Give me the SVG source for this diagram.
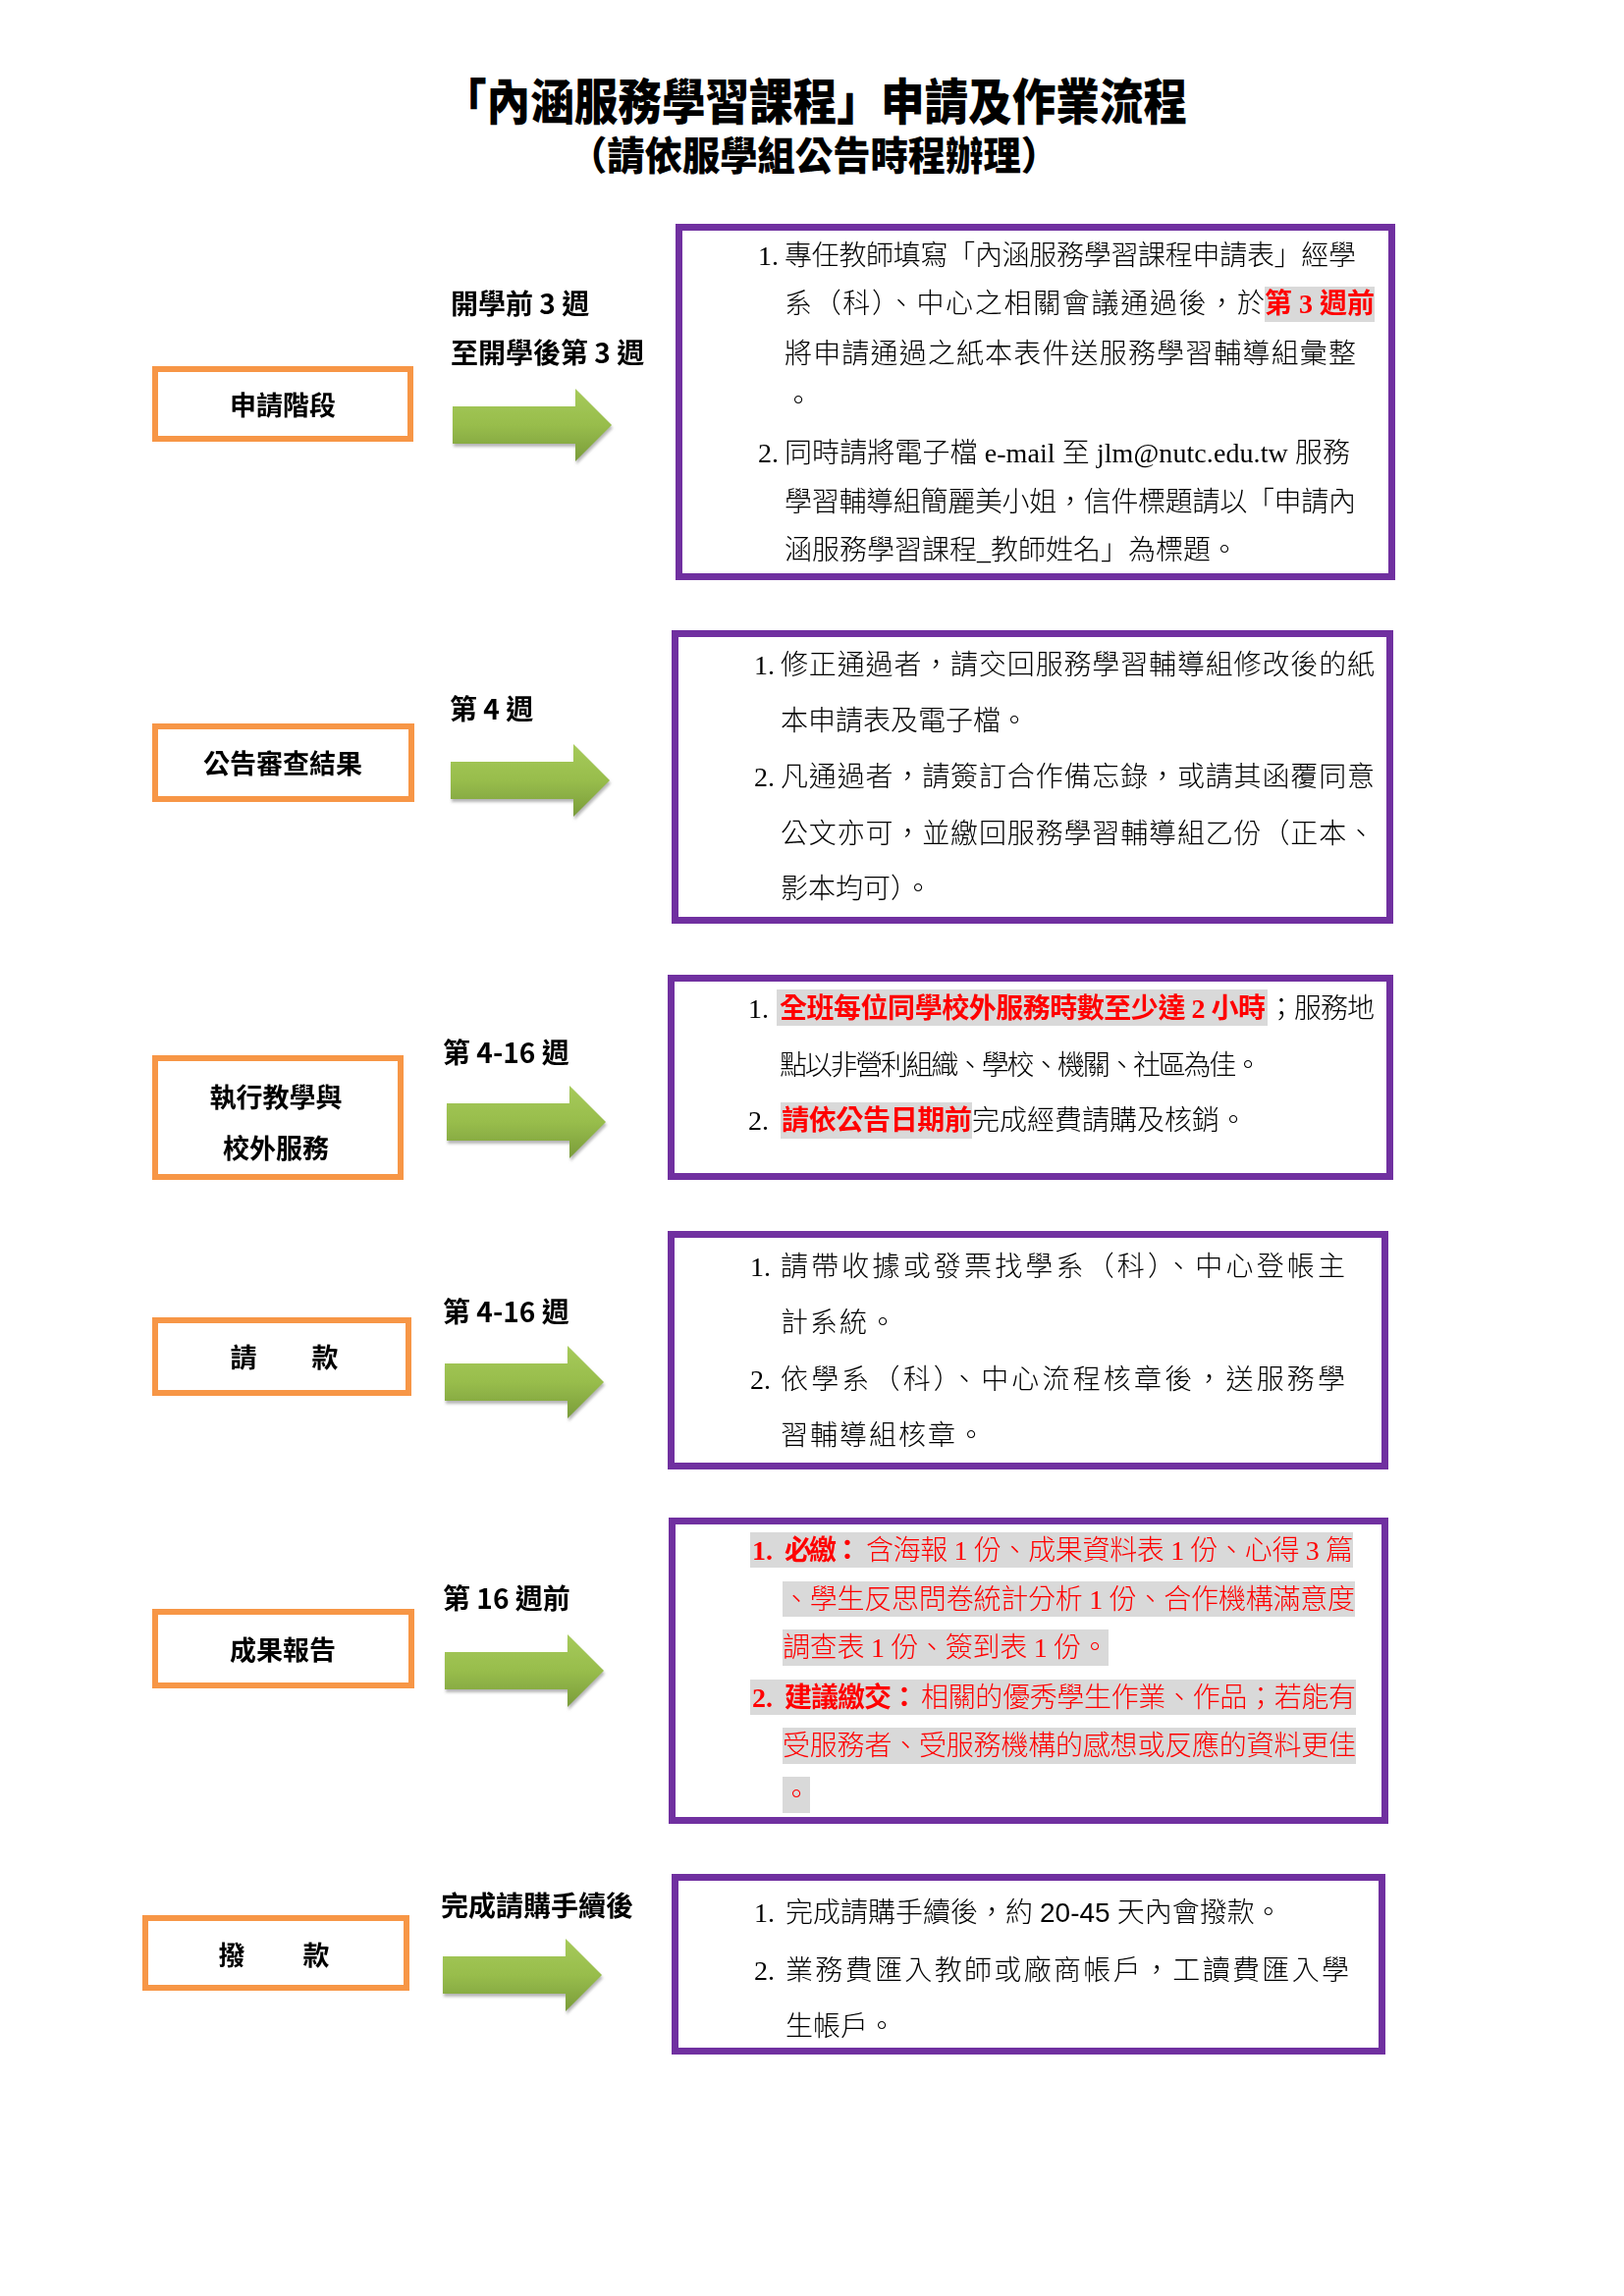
<svg xmlns="http://www.w3.org/2000/svg" width="1654" height="2339" viewBox="0 0 1654 2339">
<style>
.title{font-family:"Noto Sans CJK TC","Noto Sans CJK SC",sans-serif;font-weight:900;fill:#000}
.stage rect{fill:#fff;stroke:#F79646;stroke-width:6}
.stage text{font-family:"Noto Sans CJK TC",sans-serif;font-weight:700;font-size:27px;fill:#000;text-anchor:middle}
.time{font-family:"Noto Sans CJK TC",sans-serif;font-weight:700;font-size:28px;fill:#000}
.box rect.frame{fill:#fff;stroke:#7030A0;stroke-width:7}
.b{font-family:"Liberation Serif","Noto Sans CJK TC",serif;font-weight:300;font-size:28px;fill:#000}
.r{fill:#FF0000}
.bold{font-weight:700}
.hl{fill:#D9D9D9}
.sans{font-family:"Liberation Sans","Noto Sans CJK TC",sans-serif;font-weight:400}
</style>
<defs>
<linearGradient id="gArrow" x1="0" y1="0" x2="0" y2="1">
<stop offset="0" stop-color="#a6ca5a"/>
<stop offset="0.5" stop-color="#98bd4c"/>
<stop offset="1" stop-color="#7a9c3a"/>
</linearGradient>
<filter id="shadow" x="-10%" y="-20%" width="125%" height="150%">
<feDropShadow dx="1" dy="3" stdDeviation="1.5" flood-color="#777" flood-opacity="0.55"/>
</filter>
<path id="arrow" d="M0,-19 H125 V-37 L162,0 L125,37 V19 H0 Z"/>
</defs>
<rect width="1654" height="2339" fill="#fff"/>

<g id="title">
<text class="title" x="830" y="122" font-size="50" text-anchor="middle" textLength="758" lengthAdjust="spacingAndGlyphs">「內涵服務學習課程」申請及作業流程</text>
<text class="title" x="829" y="173" font-size="40" text-anchor="middle" textLength="498" lengthAdjust="spacingAndGlyphs">（請依服學組公告時程辦理）</text>
</g>

<g id="connectors" fill="url(#gArrow)" filter="url(#shadow)">
<use href="#arrow" x="461" y="433"/>
<use href="#arrow" x="459" y="795"/>
<use href="#arrow" x="455" y="1143"/>
<use href="#arrow" x="453" y="1408"/>
<use href="#arrow" x="453" y="1702"/>
<use href="#arrow" x="451" y="2012"/>
</g>

<!-- Row 1 -->
<g id="stage-apply" class="stage">
<rect x="158" y="376" width="260" height="71"/>
<text x="288" y="423">申請階段</text>
</g>
<g id="time-apply">
<text class="time" x="459" y="320">開學前 3 週</text>
<text class="time" x="459" y="370">至開學後第 3 週</text>
</g>
<g id="box-apply" class="box">
<rect class="frame" x="691.5" y="231.5" width="726" height="356"/>
<text class="b" x="772" y="270">1.</text>
<text class="b" x="799" y="270" textLength="582" lengthAdjust="spacing">專任教師填寫「內涵服務學習課程申請表」經學</text>
<text class="b" x="799" y="319" textLength="489" lengthAdjust="spacing">系（科）、中心之相關會議通過後，於</text>
<rect class="hl" x="1288" y="292" width="112" height="36"/>
<text class="b r bold" x="1288" y="319" textLength="112" lengthAdjust="spacing">第 3 週前</text>
<text class="b" x="799" y="370" textLength="582" lengthAdjust="spacing">將申請通過之紙本表件送服務學習輔導組彙整</text>
<text class="b" x="799" y="418">。</text>
<text class="b" x="772" y="471">2.</text>
<text class="b" x="799" y="471" textLength="576" lengthAdjust="spacing">同時請將電子檔 e-mail 至 jlm@nutc.edu.tw 服務</text>
<text class="b" x="799" y="521" textLength="582" lengthAdjust="spacing">學習輔導組簡麗美小姐，信件標題請以「申請內</text>
<text class="b" x="799" y="570" textLength="462" lengthAdjust="spacing">涵服務學習課程_教師姓名」為標題。</text>
</g>

<!-- Row 2 -->
<g id="stage-announce" class="stage">
<rect x="158" y="740" width="261" height="74"/>
<text x="288" y="788">公告審查結果</text>
</g>
<g id="time-announce">
<text class="time" x="458" y="733">第 4 週</text>
</g>
<g id="box-announce" class="box">
<rect class="frame" x="687.5" y="645.5" width="728" height="292"/>
<text class="b" x="768" y="687">1.</text>
<text class="b" x="795" y="687" textLength="605" lengthAdjust="spacing">修正通過者，請交回服務學習輔導組修改後的紙</text>
<text class="b" x="795" y="744">本申請表及電子檔。</text>
<text class="b" x="768" y="801">2.</text>
<text class="b" x="795" y="801" textLength="605" lengthAdjust="spacing">凡通過者，請簽訂合作備忘錄，或請其函覆同意</text>
<text class="b" x="795" y="859" textLength="605" lengthAdjust="spacing">公文亦可，並繳回服務學習輔導組乙份（正本、</text>
<text class="b" x="795" y="915">影本均可）。</text>
</g>

<!-- Row 3 -->
<g id="stage-teach" class="stage">
<rect x="158" y="1078" width="250" height="121"/>
<text x="281" y="1128">執行教學與</text>
<text x="281" y="1180">校外服務</text>
</g>
<g id="time-teach">
<text class="time" x="451" y="1083">第 4-16 週</text>
</g>
<g id="box-teach" class="box">
<rect class="frame" x="683.5" y="996.5" width="732" height="202"/>
<text class="b" x="762" y="1037">1.</text>
<rect class="hl" x="791" y="1008" width="500" height="37"/>
<text class="b r bold" x="794" y="1037" textLength="495" lengthAdjust="spacing">全班每位同學校外服務時數至少達 2 小時</text>
<text class="b" x="1291" y="1037" textLength="109" lengthAdjust="spacing">；服務地</text>
<text class="b" x="794" y="1095" textLength="491" lengthAdjust="spacing">點以非營利組織、學校、機關、社區為佳。</text>
<text class="b" x="762" y="1151">2.</text>
<rect class="hl" x="795" y="1123" width="195" height="37"/>
<text class="b r bold" x="796" y="1151" textLength="194" lengthAdjust="spacing">請依公告日期前</text>
<text class="b" x="990" y="1151">完成經費請購及核銷。</text>
</g>

<!-- Row 4 -->
<g id="stage-claim" class="stage">
<rect x="158" y="1345" width="258" height="74"/>
<text x="248" y="1393">請</text>
<text x="331" y="1393">款</text>
</g>
<g id="time-claim">
<text class="time" x="451" y="1347">第 4-16 週</text>
</g>
<g id="box-claim" class="box">
<rect class="frame" x="683.5" y="1257.5" width="727" height="236"/>
<text class="b" x="764" y="1300">1.</text>
<text class="b" x="795" y="1300" textLength="575" lengthAdjust="spacing">請帶收據或發票找學系（科）、中心登帳主</text>
<text class="b" x="795" y="1357" textLength="118" lengthAdjust="spacing">計系統。</text>
<text class="b" x="764" y="1415">2.</text>
<text class="b" x="795" y="1415" textLength="575" lengthAdjust="spacing">依學系（科）、中心流程核章後，送服務學</text>
<text class="b" x="795" y="1472" textLength="208" lengthAdjust="spacing">習輔導組核章。</text>
</g>

<!-- Row 5 -->
<g id="stage-report" class="stage">
<rect x="158" y="1642" width="261" height="75"/>
<text x="288" y="1691">成果報告</text>
</g>
<g id="time-report">
<text class="time" x="451" y="1639">第 16 週前</text>
</g>
<g id="box-report" class="box">
<rect class="frame" x="684.5" y="1549.5" width="726" height="305"/>
<rect class="hl" x="764" y="1561" width="614" height="36"/>
<rect class="hl" x="797" y="1611" width="583" height="36"/>
<rect class="hl" x="797" y="1660" width="332" height="37"/>
<rect class="hl" x="764" y="1711" width="617" height="36"/>
<rect class="hl" x="797" y="1760" width="584" height="37"/>
<rect class="hl" x="797" y="1810" width="28" height="37"/>
<text class="b r bold" x="766" y="1589">1.</text>
<text class="b r bold" x="799" y="1589" textLength="78" lengthAdjust="spacing">必繳：</text>
<text class="b r" x="882" y="1589" textLength="496" lengthAdjust="spacing">含海報 1 份、成果資料表 1 份、心得 3 篇</text>
<text class="b r" x="797" y="1639" textLength="583" lengthAdjust="spacing">、學生反思問卷統計分析 1 份、合作機構滿意度</text>
<text class="b r" x="797" y="1688" textLength="332" lengthAdjust="spacing">調查表 1 份、簽到表 1 份。</text>
<text class="b r bold" x="766" y="1739">2.</text>
<text class="b r bold" x="799" y="1739" textLength="136" lengthAdjust="spacing">建議繳交：</text>
<text class="b r" x="938" y="1739" textLength="443" lengthAdjust="spacing">相關的優秀學生作業、作品；若能有</text>
<text class="b r" x="797" y="1788" textLength="584" lengthAdjust="spacing">受服務者、受服務機構的感想或反應的資料更佳</text>
<text class="b r" x="797" y="1838">。</text>
</g>

<!-- Row 6 -->
<g id="stage-pay" class="stage">
<rect x="148" y="1954" width="266" height="71"/>
<text x="236" y="2002">撥</text>
<text x="322" y="2002">款</text>
</g>
<g id="time-pay">
<text class="time" x="449" y="1952">完成請購手續後</text>
</g>
<g id="box-pay" class="box">
<rect class="frame" x="687.5" y="1912.5" width="720" height="177"/>
<text class="b" x="768" y="1958">1.</text>
<text class="b" x="800" y="1958">完成請購手續後，約 <tspan class="sans">20-45</tspan> 天內會撥款。</text>
<text class="b" x="768" y="2017">2.</text>
<text class="b" x="800" y="2017" textLength="574" lengthAdjust="spacing">業務費匯入教師或廠商帳戶，工讀費匯入學</text>
<text class="b" x="800" y="2074">生帳戶。</text>
</g>
</svg>
